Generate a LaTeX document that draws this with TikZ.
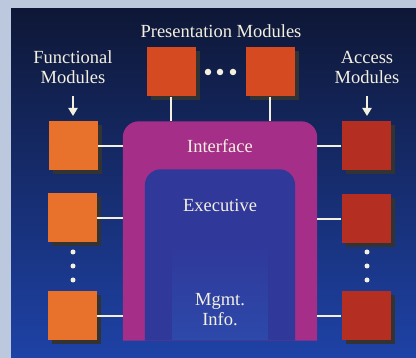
\documentclass[tikz,border=0pt]{standalone}
\usepackage{fontspec}
\setmainfont{Liberation Serif}
\usepackage{xcolor}
\usepackage{tikz}
\usetikzlibrary{positioning, arrows.meta, shadows}

\definecolor{frame}{HTML}{BCC8DE}
\definecolor{navy}{HTML}{0E1736}
\definecolor{deepblue}{HTML}{1E42A6}
\definecolor{cream}{HTML}{F4F0E0}
\definecolor{ifacecol}{HTML}{A42E88}
\definecolor{execcol}{HTML}{30389A}
\definecolor{mgmtcol}{HTML}{2C4CAC}
\definecolor{funccol}{HTML}{E8722C}
\definecolor{prescol}{HTML}{D64A22}
\definecolor{acccol}{HTML}{B42E22}

\tikzset{
    module/.style = {minimum width = 49pt, minimum height = 49pt, inner sep = 0pt,
        general shadow = {fill = black!80, shadow xshift = 4pt, shadow yshift = -4pt}},
    label/.style = {text = cream, font = \fontsize{18.5}{20}\selectfont, align = center, inner sep = 0pt},
    link/.style = {cream, line width = 2.5pt},
    pointer/.style = {cream, line width = 2.2pt, -{Triangle[width = 9pt, length = 8pt]}},
    dot/.style = {circle, fill = cream, inner sep = 0pt, minimum size = #1},
    dot/.default = 5pt
}

\begin{document}
\begin{tikzpicture}[x = 1pt, y = -1pt]

    \useasboundingbox (0, 0) rectangle (416, 358);
    \fill [frame] (0, 0) rectangle (416, 358);
    \shade [top color = navy, bottom color = deepblue] (11, 9) rectangle (416, 358);

    % core layers
    \node [minimum width = 194pt, minimum height = 219pt, inner sep = 0pt] (iface) at (220, 231) {};
    \fill [ifacecol] (iface.south west) [rounded corners = 16pt] -- (iface.north west) -- (iface.north east) [sharp corners] -- (iface.south east) -- cycle;
    \node [minimum width = 150pt, minimum height = 171pt, inner sep = 0pt] (exec) at (220, 255) {};
    \fill [execcol] (exec.south west) [rounded corners = 16pt] -- (exec.north west) -- (exec.north east) [sharp corners] -- (exec.south east) -- cycle;
    \node [minimum width = 96pt, minimum height = 100pt, inner sep = 0pt] (mgmt) at (220, 290) {};
    \shade [top color = execcol, bottom color = mgmtcol!85!execcol] (mgmt.south west) [rounded corners = 14pt] -- (mgmt.north west) -- (mgmt.north east) [sharp corners] -- (mgmt.south east) -- cycle;

    \node [label] (ifacetext) at (220, 146) {Interface};
    \node [label] (exectext) at (220, 205) {Executive};
    \node [label] (mgmttext) at (220, 310) {Mgmt.\\Info.};

    % presentation modules
    \node [label] (prestext) at (221, 31) {Presentation Modules};
    \node [module, fill = prescol] (p1) at (171, 72) {};
    \node [module, fill = prescol] (p2) at (270, 72) {};
    \node [dot = 6.5pt] (pd1) at (208, 72) {};
    \node [dot = 6.5pt] (pd2) at (220, 72) {};
    \node [dot = 6.5pt] (pd3) at (233, 72) {};
    \draw [link] (p1.south) -- (p1.south |- iface.north);
    \draw [link] (p2.south) -- (p2.south |- iface.north);

    % functional modules
    \node [label] (functext) at (73, 67) {Functional\\Modules};
    \node [module, fill = funccol] (f1) at (73, 146) {};
    \node [module, fill = funccol] (f2) at (72, 218) {};
    \node [module, fill = funccol] (f3) at (72, 316) {};
    \coordinate (fatip) at (73, 116);
    \draw [pointer] (functext.south |- 0, 96) -- (fatip);
    \foreach \y [count = \i] in {252, 266, 280}
        \node [dot] (fd\i) at (73, \y) {};
    \foreach \b in {f1, f2, f3}
        \draw [link] (\b.east) -- (\b.east -| iface.west);

    % access modules
    \node [label] (acctext) at (367, 67) {Access\\Modules};
    \node [module, fill = acccol] (a1) at (366, 146) {};
    \node [module, fill = acccol] (a2) at (366, 219) {};
    \node [module, fill = acccol] (a3) at (366, 316) {};
    \coordinate (aatip) at (367, 116);
    \draw [pointer] (acctext.south |- 0, 96) -- (aatip);
    \foreach \y [count = \i] in {252, 266, 280}
        \node [dot] (ad\i) at (367, \y) {};
    \foreach \b in {a1, a2, a3}
        \draw [link] (\b.west) -- (\b.west -| iface.east);

\end{tikzpicture}
\end{document}
